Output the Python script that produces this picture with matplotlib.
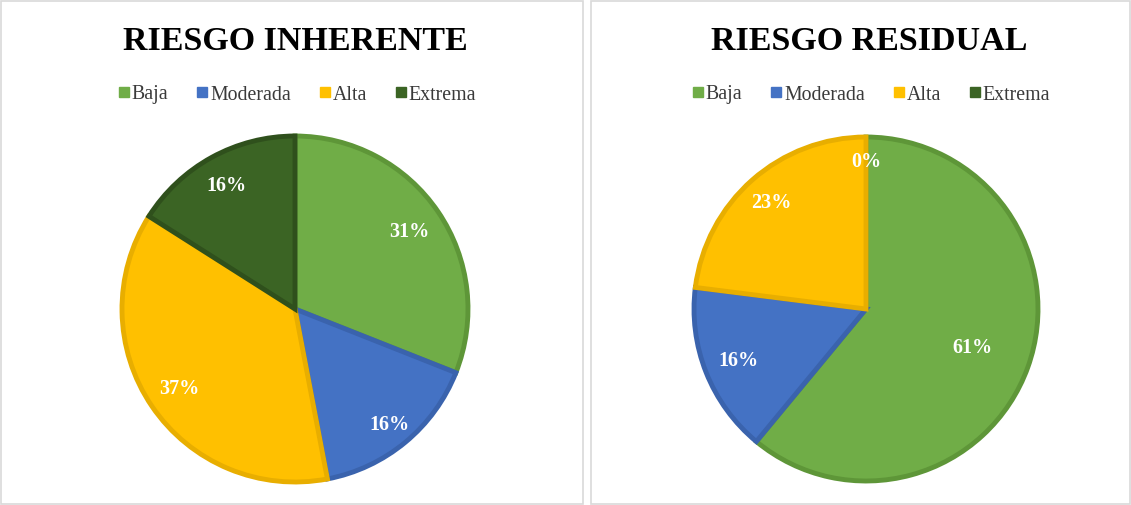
import matplotlib
matplotlib.use("Agg")
import matplotlib.pyplot as plt
import numpy as np
from matplotlib.patches import Rectangle
from matplotlib.lines import Line2D

categories = ["Baja", "Moderada", "Alta", "Extrema"]
inherente = [31, 16, 37, 16]
residual = [61, 16, 23, 0]
titles = ["RIESGO INHERENTE", "RIESGO RESIDUAL"]

colors = ["#70AD47", "#4472C4", "#FFC000", "#3B6424"]
edges = ["#5E9638", "#3A63AD", "#E8AE00", "#2F501C"]

W, H = 1131, 506
fig = plt.figure(figsize=(W / 100, H / 100), dpi=100)
fig.patch.set_facecolor("white")

serif = ["Liberation Serif", "DejaVu Serif"]

# panel borders
for x0, x1 in [(1, 583), (591, 1130)]:
    fig.add_artist(Rectangle((x0 / W, 1 / H), (x1 - x0) / W, (H - 3) / H,
                             transform=fig.transFigure, fill=False,
                             edgecolor="#D9D9D9", linewidth=1.2))

panels = [
    dict(vals=inherente, cx=295, cy=310, r=173, title=titles[0], tx=295,
         dist=[0.80, 0.86, 0.81, 0.82]),
    dict(vals=residual, cx=866, cy=310, r=172, title=titles[1], tx=869,
         dist=[0.66, 0.80, 0.83, 0.86]),
]

for p in panels:
    cx, cy, r = p["cx"], p["cy"], p["r"]
    ax = fig.add_axes([(cx - r) / W, (H - cy - r) / H, 2 * r / W, 2 * r / H])
    wedges, _ = ax.pie(p["vals"], colors=colors, startangle=90, counterclock=False,
                       wedgeprops=dict(edgecolor="none"))
    for w, ec, v in zip(wedges, edges, p["vals"]):
        if v > 0:
            w.set_edgecolor(ec)
            w.set_linewidth(3.5)
            w.set_joinstyle("miter")
        else:
            w.set_visible(False)
    total = sum(p["vals"])
    ang = 90.0
    for v, d in zip(p["vals"], p["dist"]):
        span = 360.0 * v / total
        mid = np.deg2rad(ang - span / 2)
        ang -= span
        ax.text(d * np.cos(mid), d * np.sin(mid), f"{v}%", ha="center", va="center",
                color="white", fontsize=14.5, fontweight="bold", family=serif)
    ax.set_xlim(-1, 1)
    ax.set_ylim(-1, 1)
    ax.set_aspect("auto")
    ax.axis("off")

    fig.text(p["tx"] / W, 1 - 42 / H, p["title"], ha="center", va="center",
             fontsize=24.5, fontweight="bold", family=serif, color="black")

    handles = [Line2D([], [], marker="s", linestyle="none", markersize=7.5,
                      markerfacecolor=c, markeredgecolor=c) for c in colors]
    fig.legend(handles, categories, loc="center", bbox_to_anchor=(p["tx"] / W, 1 - 95 / H),
               ncol=4, frameon=False, handletextpad=-0.1, columnspacing=1.2,
               prop=dict(family=serif, size=14.3), labelcolor="#3A3A3A",
               handlelength=1.0)

fig.savefig("out.png", dpi=100, facecolor="white")
